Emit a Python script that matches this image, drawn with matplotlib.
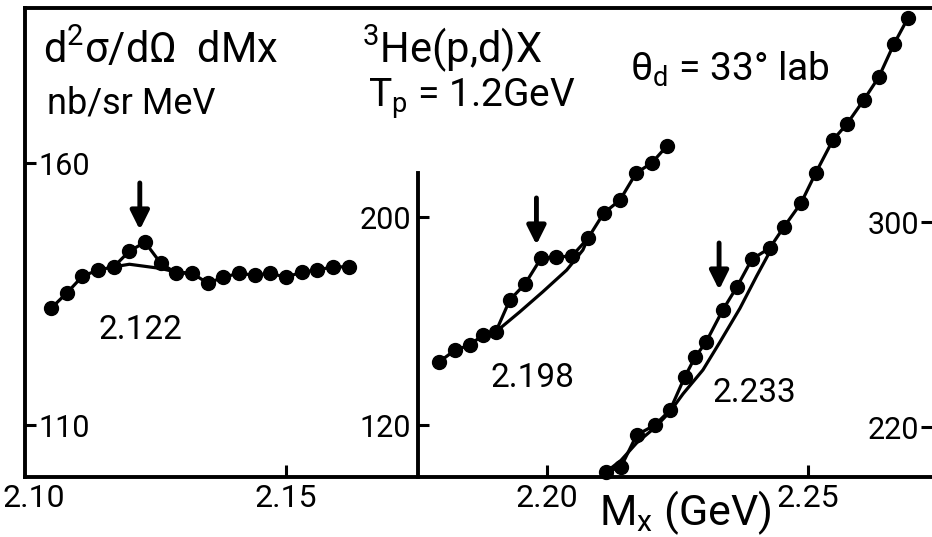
import numpy as np
import matplotlib
matplotlib.use("Agg")
import matplotlib.pyplot as plt
import matplotlib.transforms as mtransforms

plt.rcParams['font.family'] = ['Roboto', 'DejaVu Sans']
plt.rcParams['mathtext.fontset'] = 'custom'
plt.rcParams['mathtext.rm'] = 'Roboto'
plt.rcParams['mathtext.it'] = 'Roboto'

# missing mass Mx (GeV) and cross sections, three pieces with own scales
mx_left = [2.105, 2.108, 2.111, 2.114, 2.117, 2.120, 2.123, 2.126, 2.129, 2.132,
           2.135, 2.138, 2.141, 2.144, 2.147, 2.150, 2.153, 2.156, 2.159, 2.162]
xs_left = [132.3, 135.2, 138.4, 139.6, 140.2, 143.2, 144.9, 140.9, 139.0, 139.0,
           137.1, 138.2, 139.0, 138.6, 139.0, 138.2, 139.2, 139.6, 140.2, 140.2]
bg_mx_left = [2.117, 2.120, 2.123, 2.126, 2.129, 2.132]
bg_xs_left = [140.2, 140.7, 140.3, 139.9, 139.2, 139.0]

mx_mid = [2.1793, 2.1824, 2.1853, 2.1877, 2.1902, 2.1929, 2.1958, 2.1989,
          2.2017, 2.2048, 2.2079, 2.2109, 2.2140, 2.2171, 2.2201, 2.2230]
xs_mid = [144.2, 148.8, 150.8, 154.6, 155.8, 168.1, 174.2, 184.2,
          184.6, 185.0, 191.9, 201.5, 206.5, 216.9, 220.8, 227.3]
bg_mx_mid = [2.1902, 2.1948, 2.1992, 2.2038, 2.2069, 2.2079]
bg_xs_mid = [155.8, 163.5, 171.2, 179.6, 187.3, 191.9]

mx_right = [2.2113, 2.2142, 2.2172, 2.2207, 2.2236, 2.2264, 2.2284, 2.2305,
            2.2337, 2.2364, 2.2393, 2.2427, 2.2454, 2.2487, 2.2515, 2.2548,
            2.2575, 2.2607, 2.2636, 2.2665, 2.2692]
xs_right = [202.4, 204.4, 216.9, 220.8, 226.6, 239.5, 247.3, 253.2,
            265.7, 274.7, 285.6, 289.9, 298.1, 307.5, 319.2, 332.1,
            338.4, 347.7, 356.7, 369.6, 379.8]
bg_mx_right = [2.2113, 2.2142, 2.2172, 2.2207, 2.2236, 2.2261, 2.2299, 2.2331,
               2.2370, 2.2402, 2.2427]
bg_xs_right = [202.4, 207.0, 213.8, 219.8, 226.0, 233.0, 242.3, 253.0,
               266.4, 279.0, 288.4]

x_ticks = [2.15, 2.20, 2.25]
x_ticklabels = ["2.15", "2.20", "2.25"]
corner_label = "2.10"

peaks = [2.122, 2.198, 2.233]
peak_labels = ["2.122", "2.198", "2.233"]
label_x = [2.1222, 2.1973, 2.2398]

fig = plt.figure(figsize=(9.32, 5.37), dpi=100)
ax1 = fig.add_axes([25 / 932, 1 - 477 / 537, 907 / 932, 469 / 537])
ax2 = ax1.twinx()
ax3 = ax1.twinx()

ax1.set_xlim(2.10, 2.2738)
ax1.set_ylim(100.1, 189.6)
ax2.set_ylim(100.0, 280.4)
ax3.set_ylim(200.5, 383.7)

lw = 2.3
ms = 10
ax1.plot(mx_left, xs_left, '-o', color='black', lw=lw, ms=ms)
ax1.plot(bg_mx_left, bg_xs_left, '-', color='black', lw=lw)
ax2.plot(mx_mid, xs_mid, '-o', color='black', lw=lw, ms=ms)
ax2.plot(bg_mx_mid, bg_xs_mid, '-', color='black', lw=lw)
ax3.plot(mx_right, xs_right, '-o', color='black', lw=lw, ms=ms, clip_on=False)
ax3.plot(bg_mx_right, bg_xs_right, '-', color='black', lw=lw)

# frame
for ax in (ax1, ax2, ax3):
    for s in ax.spines.values():
        s.set_visible(False)
for s in ('left', 'top', 'bottom'):
    ax1.spines[s].set_visible(True)
    ax1.spines[s].set_linewidth(2.8)

# x axis
ax1.set_xticks(x_ticks)
ax1.set_xticklabels(x_ticklabels)
ax1.tick_params(axis='x', direction='in', length=9, width=2.2, labelsize=23, pad=5)
trans = mtransforms.blended_transform_factory(ax1.transData, ax1.transAxes)
# origin label sits a bit right of the corner
ax1.annotate(corner_label, xy=(2.1016, 0), xycoords=trans, xytext=(0, -5),
             textcoords='offset points', ha='center', va='top', fontsize=23)
ax1.set_xlabel("M$_\\mathregular{x}$ (GeV)", fontsize=31)
ax1.xaxis.set_label_coords(0.728, -0.025)

# left scale, labels inside
ax1.set_yticks([110, 160])
ax1.tick_params(axis='y', direction='in', length=8, width=2.2, labelsize=22, pad=-10)
for t in ax1.get_yticklabels():
    t.set_horizontalalignment('left')

# middle scale on its own spine
ax2.spines['left'].set_visible(True)
ax2.spines['left'].set_position(('data', 2.1753))
ax2.spines['left'].set_bounds(100.0, 217.0)
ax2.spines['left'].set_linewidth(2.8)
ax2.yaxis.set_ticks_position('left')
ax2.yaxis.set_label_position('left')
ax2.set_yticks([120, 200])
ax2.tick_params(axis='y', direction='in', length=8, width=2.2, labelsize=22, pad=5)

# right scale, labels inside
ax3.set_yticks([220, 300])
ax3.tick_params(axis='y', direction='in', length=8, width=2.2, labelsize=22, pad=-9)
for t in ax3.get_yticklabels():
    t.set_horizontalalignment('right')

# annotations
ax1.text(0.0198, 0.883, "d$^\\mathregular{2}$σ/dΩ  dMx", transform=ax1.transAxes,
         fontsize=30, va='baseline', ha='left')
ax1.text(0.024, 0.776, "nb/sr MeV", transform=ax1.transAxes,
         fontsize=26, va='baseline', ha='left')
ax1.text(0.3716, 0.885, "$^\\mathregular{3}$He(p,d)X", transform=ax1.transAxes,
         fontsize=30, va='baseline', ha='left')
ax1.text(0.378, 0.79, "T$_\\mathregular{p}$ = 1.2GeV", transform=ax1.transAxes,
         fontsize=28, va='baseline', ha='left')
ax1.text(0.667, 0.846, "θ$_\\mathregular{d}$ = 33° lab", transform=ax1.transAxes,
         fontsize=28, va='baseline', ha='left')

arrow_top = [0.627, 0.595, 0.499]
label_y = [0.313, 0.211, 0.179]
for p, lab, lx, yt, yl in zip(peaks, peak_labels, label_x, arrow_top, label_y):
    ax1.annotate("", xy=(p, yt - 0.1), xytext=(p, yt), xycoords=trans, textcoords=trans,
                 arrowprops=dict(arrowstyle='-|>', lw=3.5, color='black', mutation_scale=28,
                                 shrinkA=0, shrinkB=0))
    ax1.text(lx, yl, lab, transform=trans, fontsize=24, ha='center', va='center')

fig.savefig("out.png", dpi=100)
